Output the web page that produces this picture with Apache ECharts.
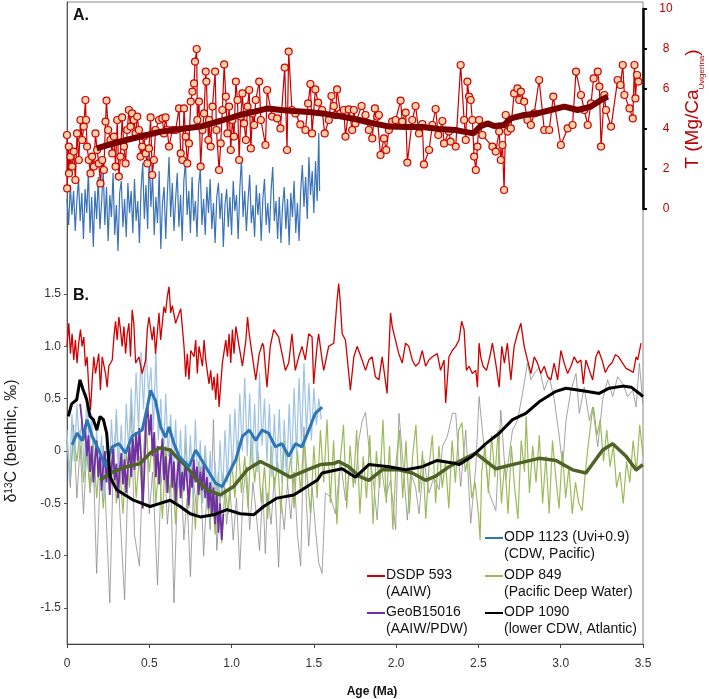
<!DOCTYPE html>
<html>
<head>
<meta charset="utf-8">
<script src="https://cdn.jsdelivr.net/npm/echarts@6/dist/echarts.min.js"></script>
<style>
  html, body { margin: 0; padding: 0; background: #fff; }
  #chart { width: 709px; height: 699px; }
</style>
</head>
<body>
<div id="chart"></div>
<script>
// ---- Panel A: Mg/Ca temperature (T) ----
const tempPoints = [
  [0.000,3.70],[0.001,1.03],[0.011,3.12],[0.012,1.78],[0.021,2.62],[0.031,2.12],[0.041,2.87],[0.051,1.45],
  [0.061,3.78],[0.072,2.45],[0.082,4.45],[0.092,3.45],[0.102,4.12],[0.112,5.45],[0.116,4.45],[0.122,3.12],
  [0.132,2.45],[0.143,1.78],[0.153,2.62],[0.163,2.12],[0.173,3.78],[0.183,2.95],[0.193,2.28],[0.203,1.28],
  [0.214,2.45],[0.224,1.95],[0.234,4.37],[0.240,5.42],[0.250,3.95],[0.264,3.45],[0.275,2.78],[0.285,3.62],
  [0.295,2.12],[0.305,4.45],[0.315,1.62],[0.325,2.62],[0.335,4.58],[0.346,3.12],[0.356,2.28],[0.366,3.95],
  [0.376,4.95],[0.386,4.12],[0.396,4.78],[0.406,4.45],[0.417,3.78],[0.427,4.62],[0.437,3.95],[0.447,2.62],
  [0.457,3.12],[0.467,3.62],[0.478,2.78],[0.488,2.28],[0.498,3.03],[0.508,4.58],[0.518,1.70],[0.528,2.45],
  [0.538,3.95],[0.559,4.45],[0.579,4.53],[0.589,3.78],[0.599,4.58],[0.609,3.95],[0.620,3.12],[0.640,3.95],
  [0.660,3.95],[0.681,5.03],[0.691,2.78],[0.701,2.45],[0.711,5.03],[0.721,3.62],[0.731,2.28],[0.741,3.28],
  [0.752,5.37],[0.762,5.87],[0.772,6.28],[0.778,7.37],[0.788,8.00],[0.792,4.45],[0.802,5.37],[0.812,2.12],
  [0.823,3.95],[0.833,4.78],[0.843,6.87],[0.847,6.37],[0.859,3.45],[0.863,4.45],[0.873,3.12],[0.884,5.12],
  [0.900,6.87],[0.908,3.95],[0.924,1.95],[0.934,3.28],[0.944,4.95],[0.955,7.23],[0.965,5.62],[0.975,3.78],
  [0.985,5.12],[0.995,2.95],[1.005,4.45],[1.015,3.62],[1.026,6.37],[1.036,5.45],[1.046,2.45],[1.056,4.62],
  [1.066,5.78],[1.076,4.28],[1.087,3.45],[1.097,5.12],[1.107,5.95],[1.117,3.03],[1.127,4.78],[1.137,4.20],
  [1.147,5.45],[1.168,6.37],[1.178,4.45],[1.206,3.20],[1.216,5.95],[1.246,4.62],[1.277,4.53],[1.297,4.03],
  [1.323,7.07],[1.337,2.95],[1.347,7.87],[1.367,4.95],[1.388,4.78],[1.418,4.23],[1.449,3.95],[1.465,5.28],
  [1.479,6.25],[1.489,3.78],[1.509,5.98],[1.526,5.32],[1.550,4.95],[1.566,3.78],[1.591,4.45],[1.607,5.65],
  [1.621,5.15],[1.631,4.70],[1.641,5.98],[1.662,4.78],[1.682,4.95],[1.692,3.62],[1.712,4.98],[1.733,3.95],
  [1.743,4.95],[1.753,4.28],[1.790,5.15],[1.814,4.70],[1.834,3.95],[1.855,3.53],[1.871,5.03],[1.885,4.62],
  [1.895,4.70],[1.905,2.70],[1.926,3.53],[1.940,2.95],[1.956,3.95],[1.976,4.37],[1.997,4.45],[2.027,5.42],
  [2.037,4.37],[2.058,4.82],[2.068,2.32],[2.098,4.45],[2.118,5.15],[2.139,3.78],[2.159,4.25],[2.169,2.23],
  [2.200,2.95],[2.220,4.20],[2.240,5.00],[2.256,3.70],[2.281,4.40],[2.291,3.28],[2.321,3.87],[2.331,3.37],
  [2.362,3.12],[2.392,7.20],[2.413,4.45],[2.423,3.45],[2.433,6.37],[2.443,5.62],[2.453,5.45],[2.463,4.45],
  [2.474,2.62],[2.484,1.95],[2.494,3.12],[2.504,4.45],[2.524,3.70],[2.585,3.12],[2.605,2.87],[2.626,3.87],
  [2.636,2.45],[2.646,3.20],[2.656,0.95],[2.666,4.70],[2.677,3.87],[2.697,4.03],[2.717,5.78],[2.737,6.03],
  [2.748,5.45],[2.758,5.87],[2.778,5.37],[2.798,4.45],[2.819,4.20],[2.839,4.78],[2.869,6.45],[2.900,3.95],
  [2.930,3.95],[2.955,5.62],[3.001,3.20],[3.042,4.03],[3.072,4.20],[3.093,6.87],[3.123,5.70],[3.143,4.95],
  [3.164,4.20],[3.184,5.28],[3.200,6.53],[3.225,6.87],[3.235,6.12],[3.245,3.12],[3.265,5.70],[3.275,4.95],
  [3.306,4.12],[3.346,6.45],[3.363,6.20],[3.377,7.20],[3.387,5.70],[3.418,5.03],[3.438,4.53],[3.448,7.20],
  [3.454,5.53],[3.464,6.70],[3.472,6.37]
];
const tempSmooth = [
  [0.18,3.03],[0.27,3.25],[0.36,3.45],[0.46,3.65],[0.57,3.87],[0.69,4.00],[0.81,4.12],[0.93,4.40],
  [1.05,4.70],[1.14,4.87],[1.22,5.03],[1.30,4.95],[1.38,4.90],[1.47,4.85],[1.55,4.78],[1.65,4.65],
  [1.75,4.50],[1.85,4.30],[1.96,4.12],[2.06,4.10],[2.16,4.10],[2.26,4.00],[2.36,3.95],[2.41,3.87],
  [2.47,3.78],[2.51,4.12],[2.555,4.28],[2.595,4.15],[2.656,4.20],[2.697,4.53],[2.778,4.70],[2.859,4.78],
  [2.94,4.95],[3.022,5.12],[3.103,4.95],[3.184,5.12],[3.245,5.45],[3.286,5.62]
];
// ODP 1123 record shown in panel A (no axis of its own, T-scaled)
const odp1123Upper = [
  [0.00,0.5],[0.01,-0.8],[0.02,1.2],[0.03,-0.3],[0.04,0.9],[0.05,-1.1],[0.06,0.4],[0.07,1.5],[0.08,-0.6],[0.09,0.8],
  [0.10,-1.5],[0.11,1.0],[0.12,-0.2],[0.13,1.9],[0.14,-1.2],[0.15,0.6],[0.16,-1.9],[0.17,0.9],[0.18,-0.5],[0.19,1.6],
  [0.20,-1.0],[0.21,0.3],[0.22,2.0],[0.23,-0.8],[0.24,1.1],[0.25,-1.6],[0.26,0.7],[0.27,-0.4],[0.28,1.8],[0.29,-1.3],
  [0.30,0.2],[0.31,-2.1],[0.32,0.8],[0.33,1.4],[0.34,-0.9],[0.35,0.5],[0.36,-1.4],[0.37,1.3],[0.38,-0.2],[0.39,0.9],
  [0.40,-1.2],[0.41,1.5],[0.42,-0.6],[0.43,0.4],[0.44,-1.7],[0.45,1.0],[0.46,2.3],[0.47,-0.5],[0.48,1.2],[0.49,-1.0],
  [0.50,2.8],[0.51,0.1],[0.52,1.7],[0.53,-1.3],[0.54,0.6],[0.55,-0.7],[0.56,1.9],[0.57,-2.0],[0.58,0.3],[0.59,1.1],
  [0.60,-1.5],[0.61,0.8],[0.62,2.6],[0.63,-0.4],[0.64,1.3],[0.65,-1.1],[0.66,0.5],[0.67,1.8],[0.68,-0.9],[0.69,0.7],
  [0.70,-1.6],[0.71,1.4],[0.72,2.4],[0.73,-0.3],[0.74,0.9],[0.75,-1.2],[0.76,1.6],[0.77,-0.6],[0.78,0.4],[0.79,-1.4],
  [0.80,1.2],[0.81,2.0],[0.82,-0.8],[0.83,0.5],[0.84,-1.3],[0.85,1.1],[0.86,-0.2],[0.87,1.5],[0.88,-1.0],[0.89,0.3],
  [0.90,-1.7],[0.91,0.6],[0.92,1.3],[0.93,-0.5],[0.94,0.8],[0.95,-1.9],[0.96,0.2],[0.97,1.0],[0.98,-0.9],[0.99,0.6],
  [1.00,-1.3],[1.01,1.4],[1.02,-0.1],[1.03,0.7],[1.04,-1.5],[1.05,1.0],[1.06,2.5],[1.07,-0.4],[1.08,0.9],[1.09,-1.1],
  [1.10,0.4],[1.11,1.7],[1.12,-0.7],[1.13,0.2],[1.14,-1.4],[1.15,1.2],[1.16,-0.3],[1.17,0.8],[1.18,-1.6],[1.19,0.5],
  [1.20,1.5],[1.21,-0.8],[1.22,0.3],[1.23,-1.2],[1.24,0.9],[1.25,2.1],[1.26,-0.6],[1.27,0.4],[1.28,-1.5],[1.29,0.6],
  [1.30,-1.7],[1.31,0.2],[1.32,1.1],[1.33,-1.0],[1.34,0.5],[1.35,-1.8],[1.36,0.8],[1.37,-0.4],[1.38,1.4],[1.39,-1.2],
  [1.40,0.3],[1.41,-1.6],[1.42,0.9],[1.43,2.2],[1.44,0.1],[1.45,1.6],[1.46,-0.5],[1.47,2.6],[1.48,0.7],[1.49,1.9],
  [1.50,-0.2],[1.51,2.4],[1.52,0.4],[1.53,3.8],[1.535,0.9]
];

// ---- Panel B: benthic d13C ----
const dsdp593 = [
  [0.000,1.00],[0.011,1.22],[0.021,0.93],[0.031,1.12],[0.041,0.87],[0.051,1.06],[0.061,0.84],[0.071,1.03],
  [0.082,1.16],[0.092,1.00],[0.102,1.09],[0.112,0.81],[0.122,0.90],[0.132,0.61],[0.143,0.39],[0.153,0.68],
  [0.163,0.90],[0.173,0.74],[0.193,0.93],[0.203,0.58],[0.214,0.90],[0.234,0.74],[0.244,0.61],[0.254,0.81],
  [0.275,0.87],[0.285,1.09],[0.295,1.24],[0.305,1.06],[0.315,1.28],[0.325,1.16],[0.335,1.00],[0.346,1.19],
  [0.356,0.93],[0.366,1.12],[0.376,1.22],[0.386,0.90],[0.396,1.35],[0.406,1.22],[0.417,0.84],[0.437,0.90],
  [0.457,0.74],[0.478,0.87],[0.488,1.16],[0.498,1.28],[0.518,1.06],[0.528,1.19],[0.538,0.93],[0.559,1.32],
  [0.569,1.06],[0.579,1.22],[0.589,1.38],[0.599,1.32],[0.609,1.47],[0.620,1.57],[0.630,1.32],[0.640,1.39],
  [0.660,1.22],[0.691,1.36],[0.711,1.00],[0.721,0.71],[0.731,0.93],[0.741,0.68],[0.752,0.96],[0.772,0.90],
  [0.782,1.06],[0.792,0.74],[0.802,1.00],[0.823,0.81],[0.833,1.06],[0.843,0.87],[0.863,0.64],[0.873,0.77],
  [0.884,0.58],[0.894,0.71],[0.904,0.49],[0.914,0.74],[0.924,0.42],[0.944,0.84],[0.965,1.06],[0.975,0.90],
  [0.985,1.12],[0.995,0.84],[1.005,1.16],[1.015,0.93],[1.026,1.19],[1.046,1.00],[1.066,0.81],[1.087,1.06],
  [1.097,1.28],[1.107,1.12],[1.127,0.90],[1.147,0.68],[1.168,0.93],[1.188,1.03],[1.195,1.00],[1.215,0.61],
  [1.235,1.00],[1.256,1.16],[1.286,1.09],[1.327,0.77],[1.347,0.84],[1.367,1.12],[1.387,0.77],[1.408,0.90],
  [1.428,1.00],[1.448,0.87],[1.469,1.12],[1.489,1.09],[1.499,0.64],[1.519,1.00],[1.529,1.12],[1.550,0.87],
  [1.560,0.77],[1.590,1.00],[1.621,1.03],[1.641,1.44],[1.651,1.60],[1.661,1.41],[1.672,1.12],[1.692,1.06],
  [1.722,0.58],[1.743,0.90],[1.763,1.00],[1.793,0.87],[1.814,0.77],[1.834,0.87],[1.854,0.90],[1.874,0.71],
  [1.895,0.68],[1.915,0.90],[1.945,0.55],[1.966,1.32],[1.976,1.19],[1.996,1.06],[2.016,0.93],[2.037,0.84],
  [2.057,1.03],[2.077,1.00],[2.098,0.87],[2.118,0.81],[2.138,0.84],[2.159,0.96],[2.179,0.81],[2.199,0.87],
  [2.220,0.90],[2.250,0.93],[2.270,0.77],[2.291,0.87],[2.301,0.46],[2.321,0.90],[2.341,0.96],[2.362,1.00],
  [2.382,1.06],[2.398,1.24],[2.413,1.16],[2.427,0.77],[2.443,0.81],[2.463,0.74],[2.484,0.77],[2.494,0.61],
  [2.504,1.03],[2.514,0.90],[2.528,0.81],[2.549,0.77],[2.569,0.90],[2.585,1.03],[2.605,0.84],[2.626,0.61],
  [2.642,1.00],[2.658,0.84],[2.676,1.03],[2.697,0.68],[2.717,1.00],[2.737,1.12],[2.758,1.22],[2.778,1.00],
  [2.798,0.87],[2.819,0.74],[2.839,0.90],[2.859,0.84],[2.879,0.74],[2.900,0.81],[2.920,0.71],[2.940,0.68],
  [2.960,0.84],[2.981,0.68],[3.001,0.96],[3.021,0.84],[3.042,0.74],[3.062,0.81],[3.082,0.90],[3.102,0.84],
  [3.123,0.87],[3.137,0.64],[3.153,0.87],[3.174,0.77],[3.194,0.68],[3.214,0.90],[3.230,0.96],[3.251,0.87],
  [3.271,0.75],[3.291,0.81],[3.311,0.84],[3.332,0.92],[3.352,0.90],[3.372,0.85],[3.397,0.79],[3.421,0.77],
  [3.441,0.75],[3.458,0.90],[3.468,0.87],[3.478,0.95],[3.488,1.03]
];
const odp1123 = [
  [0.000,0.20],[0.015,-0.30],[0.030,0.35],[0.045,-0.10],[0.060,0.45],[0.075,0.05],[0.090,0.30],[0.105,-0.20],
  [0.120,0.55],[0.135,0.00],[0.150,0.35],[0.165,-0.35],[0.180,0.20],[0.195,-0.25],[0.210,0.15],[0.225,-0.45],
  [0.240,0.10],[0.255,-0.30],[0.270,0.30],[0.285,-0.20],[0.300,0.40],[0.315,-0.15],[0.330,0.25],[0.345,-0.30],
  [0.360,0.45],[0.375,0.00],[0.390,0.60],[0.405,0.10],[0.420,0.75],[0.435,0.20],[0.450,0.95],[0.465,0.40],
  [0.480,1.00],[0.495,0.55],[0.510,0.80],[0.525,0.20],[0.540,0.95],[0.555,0.10],[0.570,0.50],[0.585,-0.10],
  [0.600,0.55],[0.615,-0.05],[0.630,0.35],[0.645,-0.25],[0.660,0.30],[0.675,-0.35],[0.690,0.20],[0.705,-0.40],
  [0.720,0.25],[0.735,-0.30],[0.750,0.15],[0.765,-0.45],[0.780,0.30],[0.795,-0.35],[0.810,0.10],[0.825,-0.50],
  [0.840,0.05],[0.855,-0.55],[0.870,0.00],[0.885,-0.60],[0.900,-0.10],[0.915,-0.55],[0.930,0.10],[0.945,-0.45],
  [0.960,0.20],[0.975,-0.30],[0.990,0.35],[1.005,-0.20],[1.020,0.40],[1.035,-0.10],[1.050,0.55],[1.065,0.00],
  [1.080,0.70],[1.095,-0.05],[1.110,0.55],[1.125,-0.15],[1.140,0.45],[1.155,-0.20],[1.170,0.75],[1.185,0.05],
  [1.200,0.50],[1.215,-0.10],[1.230,0.45],[1.245,-0.25],[1.260,0.35],[1.275,-0.20],[1.290,0.40],[1.305,-0.30],
  [1.320,0.30],[1.335,-0.25],[1.350,0.45],[1.365,-0.15],[1.380,0.60],[1.395,-0.05],[1.410,0.70],[1.425,0.05],
  [1.440,0.84],[1.455,0.15],[1.470,0.65],[1.485,0.10],[1.500,0.60],[1.515,0.25],[1.530,0.50],[1.545,0.30]
];
const odp1123Smooth = [
  [0.031,0.06],[0.061,0.17],[0.092,0.10],[0.122,0.30],[0.153,0.14],[0.193,0.01],[0.234,-0.15],[0.275,0.04],
  [0.315,0.07],[0.356,-0.02],[0.396,0.14],[0.457,0.20],[0.488,0.42],[0.508,0.58],[0.538,0.48],[0.569,0.23],
  [0.599,0.13],[0.620,0.23],[0.650,0.07],[0.681,-0.05],[0.741,-0.15],[0.782,0.01],[0.843,-0.15],[0.904,-0.31],
  [0.944,-0.34],[0.985,-0.21],[1.026,-0.08],[1.066,0.14],[1.107,0.20],[1.147,0.10],[1.185,0.20],[1.225,0.17],
  [1.266,0.04],[1.306,0.07],[1.347,-0.05],[1.388,0.07],[1.428,0.04],[1.469,0.20],[1.509,0.36],[1.550,0.42]
];
const odp849 = [
  [0.00,0.10],[0.02,-0.25],[0.04,0.15],[0.06,-0.10],[0.08,0.20],[0.10,-0.30],[0.12,0.05],[0.14,-0.35],
  [0.16,0.10],[0.18,-0.45],[0.20,-0.05],[0.22,-0.55],[0.24,-0.10],[0.26,-0.40],[0.28,0.05],[0.30,-0.50],
  [0.32,-0.15],[0.34,-0.60],[0.36,0.00],[0.38,-0.35],[0.40,0.20],[0.42,-0.45],[0.44,-0.05],[0.46,-0.55],
  [0.48,0.25],[0.50,-0.20],[0.52,0.10],[0.54,-0.50],[0.56,-0.10],[0.58,-0.65],[0.60,0.05],[0.62,-0.40],
  [0.64,-0.15],[0.66,-0.70],[0.68,-0.05],[0.70,-0.45],[0.72,0.10],[0.74,-0.55],[0.76,-0.20],[0.78,-0.75],
  [0.80,-0.10],[0.82,-0.50],[0.84,0.05],[0.86,-0.60],[0.88,-0.30],[0.90,-0.80],[0.92,-0.20],[0.94,-0.88],
  [0.96,-0.35],[0.98,-0.60],[1.00,-0.10],[1.02,-0.45],[1.04,0.10],[1.06,-0.40],[1.08,-0.05],[1.10,-0.55],
  [1.12,0.15],[1.14,-0.30],[1.16,0.00],[1.18,-0.50],[1.20,-0.15],[1.22,-0.65],[1.24,0.05],[1.26,-0.35],
  [1.28,-0.10],[1.30,-0.60],[1.32,0.10],[1.34,-0.30],[1.36,-0.05],[1.38,-0.55],[1.40,0.00],[1.42,-0.40],
  [1.44,0.15],[1.46,-0.25],[1.48,-0.60],[1.50,0.05],[1.52,-0.45],[1.54,0.20],[1.56,-0.30],[1.58,0.30],
  [1.60,-0.50],[1.62,0.10],[1.64,-0.70],[1.66,-0.10],[1.68,0.25],[1.70,-0.55],[1.72,0.05],[1.74,-0.35],
  [1.76,0.20],[1.78,-0.60],[1.80,-0.05],[1.82,-0.45],[1.84,0.15],[1.86,-0.70],[1.88,0.00],[1.90,-0.35],
  [1.92,0.30],[1.94,-0.50],[1.96,0.05],[1.98,-0.75],[2.00,-0.10],[2.02,0.20],[2.04,-0.45],[2.06,0.10],
  [2.08,-0.60],[2.10,-0.05],[2.12,0.25],[2.14,-0.40],[2.16,0.00],[2.18,-0.65],[2.20,-0.15],[2.22,0.15],
  [2.24,-0.50],[2.26,0.05],[2.28,-0.35],[2.30,-0.10],[2.32,-0.55],[2.34,0.10],[2.36,-0.30],[2.38,0.20],
  [2.40,0.27],[2.42,-0.20],[2.44,-0.05],[2.46,-0.45],[2.48,-0.30],[2.50,-0.60],[2.51,-0.85],[2.52,-0.20],
  [2.54,0.05],[2.56,-0.40],[2.58,0.15],[2.60,-0.25],[2.62,0.20],[2.64,-0.50],[2.66,-0.10],[2.68,-0.60],
  [2.70,0.05],[2.72,-0.35],[2.74,-0.65],[2.76,0.10],[2.78,-0.20],[2.79,0.33],[2.81,-0.40],[2.83,0.05],
  [2.85,-0.30],[2.87,0.15],[2.89,-0.50],[2.91,-0.05],[2.93,-0.60],[2.95,0.10],[2.97,-0.25],[2.99,-0.55],
  [3.01,0.00],[3.03,-0.45],[3.05,-0.15],[3.07,-0.60],[3.09,-0.30],[3.11,-0.50],[3.13,-0.57],[3.15,-0.20],
  [3.17,0.10],[3.19,0.35],[3.20,0.42],[3.22,0.15],[3.24,0.30],[3.26,-0.10],[3.28,0.20],[3.30,-0.15],
  [3.32,0.05],[3.34,-0.35],[3.36,-0.20],[3.38,-0.50],[3.40,-0.10],[3.42,-0.30],[3.44,0.10],[3.46,-0.20],
  [3.48,0.25],[3.50,-0.05]
];
const odp849Smooth = [
  [0.201,-0.28],[0.262,-0.21],[0.363,-0.15],[0.444,-0.12],[0.505,-0.02],[0.566,0.03],[0.627,0.01],[0.667,-0.06],
  [0.728,-0.15],[0.789,-0.28],[0.850,-0.37],[0.931,-0.42],[1.012,-0.34],[1.094,-0.18],[1.175,-0.10],[1.276,-0.18],
  [1.357,-0.25],[1.459,-0.18],[1.540,-0.13],[1.621,-0.12],[1.651,-0.10],[1.712,-0.15],[1.773,-0.24],[1.834,-0.28],
  [1.915,-0.18],[2.017,-0.18],[2.098,-0.21],[2.179,-0.28],[2.240,-0.24],[2.321,-0.15],[2.382,-0.10],[2.484,-0.02],
  [2.606,-0.17],[2.707,-0.13],[2.869,-0.07],[2.971,-0.09],[3.072,-0.18],[3.153,-0.21],[3.255,0.01],[3.316,0.07],
  [3.397,-0.05],[3.458,-0.18],[3.499,-0.13]
];
const odp1090 = [
  [0.00,0.10],[0.02,-0.35],[0.04,0.25],[0.06,-0.45],[0.08,0.05],[0.10,-0.60],[0.12,0.00],[0.14,-0.40],
  [0.16,-0.10],[0.18,-1.17],[0.20,-0.30],[0.22,0.05],[0.24,-0.70],[0.26,-1.45],[0.28,-0.20],[0.30,0.35],
  [0.32,-0.55],[0.35,-1.42],[0.37,-0.25],[0.39,0.45],[0.41,-0.80],[0.44,-1.10],[0.46,-0.15],[0.48,0.40],
  [0.50,-0.60],[0.52,-0.20],[0.55,-1.28],[0.57,-0.35],[0.59,0.00],[0.61,-0.70],[0.63,-0.30],[0.65,-1.45],
  [0.67,-0.40],[0.69,-0.10],[0.71,-0.85],[0.73,-0.45],[0.75,-1.20],[0.77,-0.30],[0.79,-0.60],[0.81,-0.15],
  [0.83,-1.00],[0.85,-0.40],[0.87,-0.75],[0.89,0.30],[0.91,-0.95],[0.93,-0.50],[0.95,-0.20],[0.97,-0.70],
  [0.99,-0.35],[1.01,-0.85],[1.03,-0.45],[1.05,-1.13],[1.07,-0.40],[1.09,-0.15],[1.11,-0.75],[1.13,-0.30],
  [1.15,-0.60],[1.17,-0.95],[1.19,-0.35],[1.205,-0.98],[1.22,-0.40],[1.24,-0.70],[1.26,-0.25],[1.286,-1.11],
  [1.30,-0.45],[1.32,-0.75],[1.34,-0.30],[1.36,-0.65],[1.38,-0.20],[1.40,-0.80],[1.42,-1.10],[1.44,0.23],
  [1.455,-0.50],[1.469,-0.91],[1.49,-0.35],[1.51,-0.75],[1.53,-1.07],[1.55,-1.17],[1.57,-0.40],[1.601,-0.44],
  [1.631,-0.60],[1.662,-0.09],[1.692,-0.47],[1.723,-0.15],[1.753,-0.31],[1.773,0.10],[1.794,0.29],[1.814,0.37],
  [1.834,0.04],[1.865,-0.34],[1.885,-0.66],[1.905,-0.09],[1.936,-0.44],[1.966,-0.28],[1.997,-0.75],[2.017,0.36],
  [2.037,-0.02],[2.068,-0.66],[2.088,-0.21],[2.118,-0.34],[2.139,-0.60],[2.169,-0.09],[2.200,-0.40],[2.230,-0.25],
  [2.261,-0.37],[2.281,0.04],[2.311,0.14],[2.342,0.36],[2.362,0.36],[2.392,-0.34],[2.423,0.20],[2.453,-0.69],
  [2.484,-0.15],[2.504,0.52],[2.534,0.04],[2.565,-0.40],[2.606,-0.57],[2.636,0.39],[2.666,-0.28],[2.707,0.20],
  [2.737,0.29],[2.768,0.55],[2.798,0.84],[2.819,0.68],[2.839,0.74],[2.869,0.80],[2.900,0.58],[2.930,0.71],
  [2.961,0.49],[2.991,0.14],[3.012,-0.15],[3.032,0.29],[3.062,0.58],[3.093,0.74],[3.113,0.36],[3.143,0.61],
  [3.174,0.29],[3.194,0.42],[3.225,0.04],[3.255,0.49],[3.285,0.68],[3.316,0.52],[3.346,0.71],[3.377,0.64],
  [3.407,0.52],[3.438,0.58],[3.458,0.42],[3.478,0.84],[3.499,0.45]
];
const odp1090Smooth = [
  [0.008,0.33],[0.028,0.45],[0.059,0.49],[0.079,0.68],[0.099,0.58],[0.120,0.49],[0.140,0.33],[0.160,0.30],
  [0.181,0.20],[0.201,0.33],[0.221,0.30],[0.241,0.17],[0.252,-0.05],[0.262,-0.25],[0.302,-0.37],[0.404,-0.47],
  [0.505,-0.53],[0.566,-0.50],[0.627,-0.47],[0.688,-0.53],[0.749,-0.60],[0.810,-0.63],[0.891,-0.61],[0.972,-0.56],
  [1.053,-0.60],[1.134,-0.61],[1.195,-0.53],[1.276,-0.45],[1.378,-0.42],[1.459,-0.34],[1.520,-0.28],[1.550,-0.21],
  [1.672,-0.17],[1.753,-0.25],[1.834,-0.13],[1.956,-0.15],[2.058,-0.18],[2.159,-0.15],[2.250,-0.09],[2.362,-0.12],
  [2.382,-0.13],[2.463,-0.05],[2.545,0.07],[2.626,0.17],[2.707,0.30],[2.788,0.36],[2.869,0.47],[2.971,0.57],
  [3.032,0.60],[3.153,0.57],[3.234,0.55],[3.295,0.60],[3.377,0.62],[3.428,0.61],[3.478,0.55],[3.50,0.52]
];
const geoB15016 = [
  [0.08,0.45],[0.09,0.30],[0.10,0.10],[0.11,0.25],[0.12,-0.05],[0.13,0.15],[0.14,-0.20],[0.15,0.05],
  [0.16,-0.30],[0.17,-0.10],[0.18,0.10],[0.19,-0.25],[0.20,-0.05],[0.21,-0.38],[0.22,-0.15],[0.23,0.00],
  [0.24,-0.30],[0.25,-0.10],[0.26,-0.42],[0.27,-0.20],[0.28,0.02],[0.29,-0.28],[0.30,-0.12],[0.31,-0.45],
  [0.32,-0.18],[0.33,-0.02],[0.34,-0.32],[0.35,-0.08],[0.36,-0.40],[0.37,-0.15],[0.38,0.05],[0.39,-0.25],
  [0.40,0.12],[0.41,-0.18],[0.42,0.18],[0.43,-0.10],[0.44,0.22],[0.45,-0.05],[0.46,-0.55],[0.47,-0.20],
  [0.48,0.30],[0.49,0.42],[0.50,0.15],[0.51,0.35],[0.52,-0.05],[0.53,0.18],[0.54,-0.25],[0.55,0.05],
  [0.56,-0.32],[0.57,-0.08],[0.58,0.12],[0.59,-0.28],[0.60,-0.05],[0.61,-0.40],[0.62,-0.15],[0.63,0.02],
  [0.64,-0.35],[0.65,-0.10],[0.66,-0.50],[0.67,-0.22],[0.68,-0.05],[0.69,-0.45],[0.70,-0.20],[0.71,-0.38],
  [0.72,-0.10],[0.73,-0.30],[0.74,-0.52],[0.75,-0.18],[0.76,-0.35],[0.77,-0.08],[0.78,-0.30],[0.79,-0.15],
  [0.80,-0.42],[0.81,-0.20],[0.82,-0.38],[0.83,-0.12],[0.84,-0.45],[0.85,-0.25],[0.86,-0.55],[0.87,-0.30],
  [0.88,-0.62],[0.89,-0.35],[0.90,-0.70],[0.91,-0.40],[0.92,-0.78],[0.93,-0.50],[0.94,-0.85],[0.95,-0.60]
];
const d13cTicks = [-1.5, -1.0, -0.5, 0, 0.5, 1.0, 1.5];

const fmt = v => (v === 0 ? '0' : v.toFixed(1));

const legendItems = [
  { l1: 'DSDP 593', l2: '(AAIW)', color: '#d00000', x: 367, y: 575 },
  { l1: 'GeoB15016', l2: '(AAIW/PDW)', color: '#7030a0', x: 367, y: 612 },
  { l1: 'ODP 1123 (Uvi+0.9)', l2: '(CDW, Pacific)', color: '#2e75b6', x: 485, y: 537 },
  { l1: 'ODP 849', l2: '(Pacific Deep Water)', color: '#9bbb59', x: 485, y: 575 },
  { l1: 'ODP 1090', l2: '(lower CDW, Atlantic)', color: '#000000', x: 485, y: 612 }
];

const legendGraphics = [];
legendItems.forEach(it => {
  legendGraphics.push({
    type: 'line', shape: { x1: it.x, y1: it.y + 1, x2: it.x + 18, y2: it.y + 1 },
    style: { stroke: it.color, lineWidth: 2 }
  });
  legendGraphics.push({
    type: 'text', x: it.x + 19, y: it.y - 8,
    style: { text: it.l1 + '\n' + it.l2, font: '14px "Liberation Sans", Arial, sans-serif',
      fill: '#111', verticalAlign: 'top', lineHeight: 17 }
  });
});

const chart = echarts.init(document.getElementById('chart'));

const option = {
  animation: false,
  backgroundColor: '#fff',
  textStyle: { fontFamily: '"Liberation Sans", Arial, sans-serif' },
  grid: [
    { left: 67, right: 66, top: 2, bottom: 55, show: true, borderColor: '#888', borderWidth: 1, outerBoundsMode: 'none' },
    { left: 67, right: 66, top: 9, height: 200, outerBoundsMode: 'none' },
    { left: 67, right: 66, top: 9, height: 250, outerBoundsMode: 'none' }
  ],
  xAxis: [
    {
      gridIndex: 0, type: 'value', min: 0, max: 3.5, interval: 0.5,
      axisLine: { onZero: false, lineStyle: { color: '#444', width: 1 } },
      axisTick: { length: 4, lineStyle: { color: '#444' } },
      axisLabel: { formatter: fmt, fontSize: 12, color: '#333', margin: 14 },
      splitLine: { show: false },
      name: 'Age (Ma)', nameLocation: 'middle', nameGap: 42,
      nameTextStyle: { fontWeight: 'bold', fontSize: 12, color: '#111', padding: [0, 0, 0, 34] }
    },
    { gridIndex: 1, type: 'value', min: 0, max: 3.5, show: false, axisLine: { onZero: false } },
    { gridIndex: 2, type: 'value', min: 0, max: 3.5, show: false, axisLine: { onZero: false } }
  ],
  yAxis: [
    {
      gridIndex: 0, type: 'value', min: -1.844, max: 4.29,
      axisLine: { show: true, onZero: false, lineStyle: { color: '#555' } },
      axisTick: { show: true, length: 3, customValues: d13cTicks, lineStyle: { color: '#555' } },
      axisLabel: { customValues: d13cTicks, formatter: fmt, fontSize: 12, color: '#333', margin: 6 },
      splitLine: { show: false }
    },
    {
      gridIndex: 1, type: 'value', position: 'right', min: 0, max: 10, interval: 2,
      axisLine: { show: true, onZero: false, lineStyle: { color: '#000', width: 2.5 } },
      axisTick: { show: true, length: 4, lineStyle: { color: '#000', width: 2 } },
      axisLabel: { color: '#c00000', fontSize: 12, align: 'center', margin: 23 },
      splitLine: { show: false },
      name: '{m|T (Mg/Ca}{s|Uvigerina}{m|)}', nameLocation: 'middle', nameRotate: 90, nameGap: 38,
      nameTextStyle: {
        rich: {
          m: { fontSize: 19, lineHeight: 22, verticalAlign: 'top', color: '#c00000' },
          s: { fontSize: 8, lineHeight: 8, verticalAlign: 'bottom', color: '#c00000' }
        }
      }
    },
    { gridIndex: 2, type: 'value', min: -2.5, max: 10, show: false, axisLine: { onZero: false } }
  ],
  graphic: [
    { type: 'text', x: 73, y: 8, style: { text: 'A.', font: 'bold 16px "Liberation Sans", Arial, sans-serif', fill: '#111' } },
    { type: 'text', x: 73, y: 288, style: { text: 'B.', font: 'bold 16px "Liberation Sans", Arial, sans-serif', fill: '#111' } },
    {
      type: 'text', x: 12, y: 441, rotation: Math.PI / 2,
      style: {
        text: '{m|δ}{s|13}{m|C (benthic, ‰)}', align: 'center', verticalAlign: 'middle',
        rich: {
          m: { fontSize: 16, fill: '#222', fontFamily: '"Liberation Sans", Arial, sans-serif' },
          s: { fontSize: 10, fill: '#222', verticalAlign: 'top', fontFamily: '"Liberation Sans", Arial, sans-serif' }
        }
      }
    }
  ].concat(legendGraphics),
  series: [
    // Panel A
    { name: 'ODP 1123 upper', type: 'line', xAxisIndex: 2, yAxisIndex: 2, data: odp1123Upper, showSymbol: false,
      lineStyle: { color: '#3a72b8', width: 1.2 }, z: 2, silent: true },
    { name: 'T', type: 'line', xAxisIndex: 1, yAxisIndex: 1, data: tempPoints, symbol: 'circle', symbolSize: 7,
      showAllSymbol: true, lineStyle: { color: '#cc0000', width: 1.2 },
      itemStyle: { color: '#fbd1a8', borderColor: '#cc0000', borderWidth: 1.2 }, z: 3, silent: true },
    { name: 'T smooth', type: 'line', xAxisIndex: 1, yAxisIndex: 1, data: tempSmooth, showSymbol: false,
      lineStyle: { color: '#7a0000', width: 6 }, z: 4, silent: true },
    // Panel B
    { name: 'ODP 1090 raw', type: 'line', data: odp1090, showSymbol: false,
      lineStyle: { color: '#8c8c8c', width: 0.8 }, z: 2, silent: true },
    { name: 'ODP 849', type: 'line', data: odp849, showSymbol: false,
      lineStyle: { color: '#9bbb59', width: 1.2 }, z: 2, silent: true },
    { name: 'ODP 1123', type: 'line', data: odp1123, showSymbol: false,
      lineStyle: { color: '#9dc3e6', width: 1.2 }, z: 2, silent: true },
    { name: 'DSDP 593', type: 'line', data: dsdp593, showSymbol: false,
      lineStyle: { color: '#d00000', width: 1.3 }, z: 3, silent: true },
    { name: 'GeoB15016', type: 'line', data: geoB15016, showSymbol: false,
      lineStyle: { color: '#7030a0', width: 1.8 }, z: 3, silent: true },
    { name: 'ODP 849 smooth', type: 'line', data: odp849Smooth, showSymbol: false,
      lineStyle: { color: '#4f6228', width: 3.5 }, z: 4, silent: true },
    { name: 'ODP 1123 smooth', type: 'line', data: odp1123Smooth, showSymbol: false,
      lineStyle: { color: '#2e75b6', width: 3 }, z: 4, silent: true },
    { name: 'ODP 1090 smooth', type: 'line', data: odp1090Smooth, showSymbol: false,
      lineStyle: { color: '#000', width: 3 }, z: 4, silent: true }
  ]
};

chart.setOption(option);
</script>
</body>
</html>
